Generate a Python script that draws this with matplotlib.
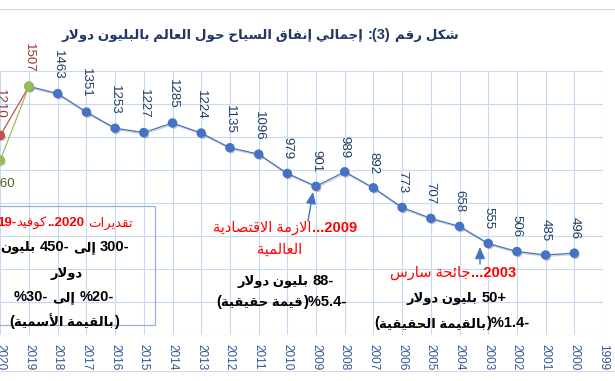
import re
import matplotlib
matplotlib.use('Agg')
import matplotlib.pyplot as plt
import matplotlib.patheffects as pe
from matplotlib.offsetbox import TextArea, HPacker, AnnotationBbox, DrawingArea
from matplotlib.patches import Rectangle
from matplotlib.lines import Line2D

# ---------------- data ----------------
years = list(range(2019, 1999, -1))
spending = [1507, 1463, 1351, 1253, 1227, 1285, 1224, 1135, 1096, 979,
            901, 989, 892, 773, 707, 658, 555, 506, 485, 496]
est_years = [2020, 2019]
est_high = [1210, 1507]
est_low = [1060, 1507]
tick_years = list(range(1999, 2021))

title = "شكل رقم (3): إجمالي إنفاق السياح حول العالم بالبليون دولار"
box_lines = ["تقديرات 2020..كوفيد-19", "-300 إلى -450 بليون", "دولار",
             "-20% إلى -30%", "(بالقيمة الأسمية)"]
crisis09_lines = ["2009...الازمة الاقتصادية", "العالمية",
                  "-88 بليون دولار", "-5.4%(قيمة حقيقية)"]
sars03_lines = ["2003...جائحة سارس", "+50 بليون دولار",
                "-1.4%(بالقيمة الحقيقية)"]

# ---------------- Arabic shaping ----------------
FORMS = {
    'ء': ('\uFE80', None, None, None),
    'آ': ('\uFE81', '\uFE82', None, None),
    'أ': ('\uFE83', '\uFE84', None, None),
    'ؤ': ('\uFE85', '\uFE86', None, None),
    'إ': ('\uFE87', '\uFE88', None, None),
    'ئ': ('\uFE89', '\uFE8A', '\uFE8B', '\uFE8C'),
    'ا': ('\uFE8D', '\uFE8E', None, None),
    'ب': ('\uFE8F', '\uFE90', '\uFE91', '\uFE92'),
    'ة': ('\uFE93', '\uFE94', None, None),
    'ت': ('\uFE95', '\uFE96', '\uFE97', '\uFE98'),
    'ث': ('\uFE99', '\uFE9A', '\uFE9B', '\uFE9C'),
    'ج': ('\uFE9D', '\uFE9E', '\uFE9F', '\uFEA0'),
    'ح': ('\uFEA1', '\uFEA2', '\uFEA3', '\uFEA4'),
    'خ': ('\uFEA5', '\uFEA6', '\uFEA7', '\uFEA8'),
    'د': ('\uFEA9', '\uFEAA', None, None),
    'ذ': ('\uFEAB', '\uFEAC', None, None),
    'ر': ('\uFEAD', '\uFEAE', None, None),
    'ز': ('\uFEAF', '\uFEB0', None, None),
    'س': ('\uFEB1', '\uFEB2', '\uFEB3', '\uFEB4'),
    'ش': ('\uFEB5', '\uFEB6', '\uFEB7', '\uFEB8'),
    'ص': ('\uFEB9', '\uFEBA', '\uFEBB', '\uFEBC'),
    'ض': ('\uFEBD', '\uFEBE', '\uFEBF', '\uFEC0'),
    'ط': ('\uFEC1', '\uFEC2', '\uFEC3', '\uFEC4'),
    'ظ': ('\uFEC5', '\uFEC6', '\uFEC7', '\uFEC8'),
    'ع': ('\uFEC9', '\uFECA', '\uFECB', '\uFECC'),
    'غ': ('\uFECD', '\uFECE', '\uFECF', '\uFED0'),
    'ف': ('\uFED1', '\uFED2', '\uFED3', '\uFED4'),
    'ق': ('\uFED5', '\uFED6', '\uFED7', '\uFED8'),
    'ك': ('\uFED9', '\uFEDA', '\uFEDB', '\uFEDC'),
    'ل': ('\uFEDD', '\uFEDE', '\uFEDF', '\uFEE0'),
    'م': ('\uFEE1', '\uFEE2', '\uFEE3', '\uFEE4'),
    'ن': ('\uFEE5', '\uFEE6', '\uFEE7', '\uFEE8'),
    'ه': ('\uFEE9', '\uFEEA', '\uFEEB', '\uFEEC'),
    'و': ('\uFEED', '\uFEEE', None, None),
    'ى': ('\uFEEF', '\uFEF0', None, None),
    'ي': ('\uFEF1', '\uFEF2', '\uFEF3', '\uFEF4'),
}
LAMALEF = {'آ': ('\uFEF5', '\uFEF6'), 'أ': ('\uFEF7', '\uFEF8'),
           'إ': ('\uFEF9', '\uFEFA'), 'ا': ('\uFEFB', '\uFEFC')}


def shape(s):
    out = []
    prev_joins = False
    i = 0
    while i < len(s):
        c = s[i]
        f = FORMS.get(c)
        if f is None:
            out.append(c)
            prev_joins = False
            i += 1
            continue
        nxt = s[i + 1] if i + 1 < len(s) else ''
        if c == 'ل' and nxt in LAMALEF:
            out.append(LAMALEF[nxt][1 if prev_joins else 0])
            prev_joins = False
            i += 2
            continue
        next_ok = f[2] is not None and nxt in FORMS and nxt != 'ء'
        if prev_joins and next_ok:
            g = f[3]
        elif prev_joins:
            g = f[1]
        elif next_ok:
            g = f[2]
        else:
            g = f[0]
        out.append(g)
        prev_joins = next_ok
        i += 1
    return ''.join(out)


def visual(s):
    s = shape(s)
    toks = re.findall(r'\d+(?:[.,]\d+)*|.', s)
    toks.reverse()
    mirror = {'(': ')', ')': '('}
    return ''.join(mirror.get(t, t) for t in toks)


FONTS = ['Liberation Sans', 'DejaVu Sans']
plt.rcParams['font.family'] = FONTS

W, H = 615, 381
fig = plt.figure(figsize=(W / 100, H / 100), dpi=100)
ax = fig.add_axes([-28.4 / W, 46 / H, 631.4 / W, 264 / H])
ax.set_xlim(2021, 1999)
ax.set_ylim(0, 1600)
for s in ax.spines.values():
    s.set_visible(False)
ax.set_xticks(list(range(1999, 2022)))
ax.set_xticklabels([str(y) if y in tick_years else '' for y in range(1999, 2022)])
ax.set_yticks(list(range(0, 1601, 200)))
ax.set_yticklabels([])
ax.grid(True, color='#C6D9F1', lw=0.8)
ax.set_axisbelow(True)
ax.tick_params(axis='x', length=0, pad=6.5, labelsize=8.5, labelcolor='#2F5597',
               labelrotation=270)
ax.tick_params(axis='y', length=0)

BLUE = '#4472C4'
# estimate lines
ax.plot(est_years, est_high, color='#C0504D', lw=0.9, zorder=3)
ax.plot(est_years, est_low, color='#9BBB59', lw=0.9, zorder=3)
# main line
ax.plot(years, spending, color=BLUE, lw=0.9, zorder=3,
        path_effects=[pe.SimpleLineShadow(offset=(0.6, -1.0), alpha=0.18), pe.Normal()])
shadow = [pe.SimplePatchShadow(offset=(1, -1.3), shadow_rgbFace='#555555', alpha=0.35), pe.Normal()]
ax.plot(years, spending, ls='none', marker='o', ms=5.8, color=BLUE, mec=BLUE,
        zorder=4, path_effects=shadow)
ax.plot([est_years[0]], [est_high[0]], ls='none', marker='o', ms=5.8,
        color='#C0504D', zorder=4, path_effects=shadow)
ax.plot([est_years[0]], [est_low[0]], ls='none', marker='o', ms=5.8,
        color='#9BBB59', zorder=4, path_effects=shadow)
ax.plot([est_years[1]], [est_low[1]], ls='none', marker='o', ms=6.2,
        color='#9BBB59', zorder=5, path_effects=shadow)

# data labels
for y, v in zip(years, spending):
    col = '#953735' if y == 2019 else '#243F60'
    ax.annotate(str(v), (y, v), xytext=(0, 10), textcoords='offset points',
                rotation=270, ha='center', va='bottom', fontsize=9.5, color=col,
                annotation_clip=False)
ax.annotate(str(est_high[0]), (est_years[0], est_high[0]), xytext=(0, 12),
            textcoords='offset points', rotation=270, ha='center', va='bottom',
            fontsize=9.5, color='#953735', annotation_clip=False)
ax.annotate(str(est_low[0]), (est_years[0], est_low[0]), xytext=(0, -13),
            textcoords='offset points', ha='center', va='top',
            fontsize=9.5, color='#4F6228', annotation_clip=False)

# frame lines
for yy in (9, 371):
    fig.add_artist(Line2D([0, 1], [1 - yy / H, 1 - yy / H], transform=fig.transFigure,
                          color='#D9D9D9', lw=0.8))

# box
fig.add_artist(Rectangle((-25 / W, (H - 325) / H), 180 / W, 119 / H,
                         transform=fig.transFigure, fill=False,
                         ec='#95B3D7', lw=0.9))

AR = re.compile(r'[\uFE70-\uFEFF]+(?: [\uFE70-\uFEFF]+)*')


def rich(text, xc, ytop, size, color, ar_w, other_w, ar_scale=0.9):
    vis = visual(text)
    parts = []
    pos = 0
    for m in AR.finditer(vis):
        if m.start() > pos:
            parts.append((vis[pos:m.start()], other_w, size))
        parts.append((m.group(), ar_w, size * ar_scale))
        pos = m.end()
    if pos < len(vis):
        parts.append((vis[pos:], other_w, size))
    children = []
    for t, w, sz in parts:
        lead = t.startswith(' ')
        trail = t.endswith(' ')
        t = t.strip(' ')
        if lead:
            children.append(DrawingArea(0.28 * size, 1))
        if t:
            children.append(TextArea(t, textprops=dict(color=color, fontsize=sz,
                                                       fontweight=w, family=FONTS)))
        if trail:
            children.append(DrawingArea(0.28 * size, 1))
    pack = HPacker(children=children, align='baseline', pad=0, sep=0)
    ab = AnnotationBbox(pack, (xc, H - ytop), xycoords='figure pixels',
                        frameon=False, box_alignment=(0.5, 0.5), pad=0,
                        annotation_clip=False)
    fig.add_artist(ab)


# title
rich(title, 260, 35, 10.5, '#1F3864', 'bold', 'bold', ar_scale=0.92)

RED = '#FF0000'
# box lines
rich(box_lines[0], 65, 223, 9.5, RED, 'normal', 'bold', ar_scale=1.0)
rich(box_lines[1], 65, 247, 10.5, 'black', 'bold', 'bold')
rich(box_lines[2], 67, 273, 10.5, 'black', 'bold', 'bold')
rich(box_lines[3], 64, 297, 10.5, 'black', 'bold', 'bold')
rich(box_lines[4], 64, 322, 10.5, 'black', 'bold', 'bold')

# 2009
rich(crisis09_lines[0], 285, 228, 10.5, RED, 'normal', 'bold', ar_scale=1.0)
rich(crisis09_lines[1], 280, 250, 10.5, RED, 'normal', 'bold', ar_scale=1.0)
rich(crisis09_lines[2], 286, 281, 10.5, 'black', 'bold', 'bold')
rich(crisis09_lines[3], 281, 302, 10.5, 'black', 'bold', 'bold')

# 2003
rich(sars03_lines[0], 453, 273, 10.5, RED, 'normal', 'bold', ar_scale=1.0)
rich(sars03_lines[1], 457, 298, 10.5, 'black', 'bold', 'bold')
rich(sars03_lines[2], 452, 323, 10.5, 'black', 'bold', 'bold')

# arrows
arrow = dict(arrowstyle='-|>,head_length=0.7,head_width=0.3', color=BLUE, lw=1,
             shrinkA=0, shrinkB=0)
ax.annotate('', xy=(313, H - 192), xycoords='figure pixels', xytext=(308, H - 221),
            textcoords='figure pixels', arrowprops=arrow, annotation_clip=False)
ax.annotate('', xy=(480, H - 247), xycoords='figure pixels', xytext=(480, H - 264),
            textcoords='figure pixels', arrowprops=arrow, annotation_clip=False)

fig.savefig('out.png', dpi=100)
